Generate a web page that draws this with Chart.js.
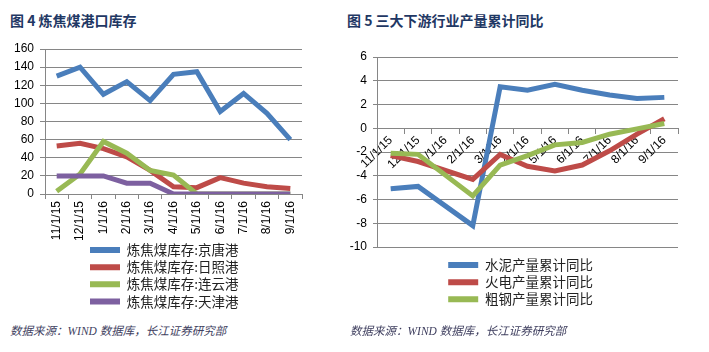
<!DOCTYPE html>
<html>
<head>
<meta charset="utf-8">
<script src="https://cdn.jsdelivr.net/npm/chart.js@4.4.0/dist/chart.umd.min.js"></script>
<style>
body { margin: 0; width: 709px; height: 352px; background: #fff; position: relative; overflow: hidden; font-family: "Noto Sans CJK SC", sans-serif; }
.title { position: absolute; font-size: 14px; font-weight: bold; color: #1f3864; white-space: nowrap; }
.src { position: absolute; font-size: 11.5px; font-style: italic; color: #3f3f5f; white-space: nowrap; font-family: "Liberation Serif", "Noto Sans CJK SC", serif; }
canvas { position: absolute; top: 0; }
</style>
</head>
<body>
<div class="title" style="left:10px;top:10px">图 4 炼焦煤港口库存</div>
<div class="title" style="left:347px;top:10px">图 5 三大下游行业产量累计同比</div>
<canvas id="portStock" width="350" height="322" style="left:0"></canvas>
<canvas id="outputYoy" width="369" height="322" style="left:340px"></canvas>
<div class="src" style="left:10px;top:322px">数据来源：WIND 数据库，长江证券研究部</div>
<div class="src" style="left:350px;top:322px">数据来源：WIND 数据库，长江证券研究部</div>
<script>
// 图4 炼焦煤港口库存
var portLabels = ['11/1/15', '12/1/15', '1/1/16', '2/1/16', '3/1/16', '4/1/16', '5/1/16', '6/1/16', '7/1/16', '8/1/16', '9/1/16'];
var jingtang = [130, 140, 110, 124, 103, 132, 135, 91, 111, 89, 60];
var rizhao = [53, 56, 50, 41, 26, 8, 7, 18, 12, 8, 6];
var lianyun = [3, 22, 58, 45, 26, 21, 0, 0, 0, 0, 0];
var tianjin = [20, 20, 20, 12, 12, 0, 0, 0, 0, 0, 0];
var portTicks = [0, 20, 40, 60, 80, 100, 120, 140, 160];

// 图5 三大下游行业产量累计同比
var outputLabels = ['11/1/15', '12/1/15', '1/1/16', '2/1/16', '3/1/16', '4/1/16', '5/1/16', '6/1/16', '7/1/16', '8/1/16', '9/1/16'];
var cement = [-5.1, -4.9, null, -8.2, 3.5, 3.2, 3.7, 3.2, 2.8, 2.5, 2.6];
var power = [-2.3, -2.8, null, -4.3, -2.2, -3.2, -3.6, -3.1, -1.9, -0.5, 0.8];
var steel = [-2.1, -2.2, null, -5.7, -3.1, -2.3, -1.4, -1.2, -0.5, -0.05, 0.4];
var outputTicks = [-10, -8, -6, -4, -2, 0, 2, 4, 6];

var BLUE = '#4a7ebb', RED = '#be4b48', GREEN = '#98b954', PURPLE = '#7d60a0';
var GRID = '#868686';

Chart.defaults.font.family = '"Liberation Sans", Arial, sans-serif';
Chart.defaults.font.size = 12;
Chart.defaults.color = '#000';

// put the (vertical) legend block under the plot
var legendPlace = {
    id: 'legendPlace',
    afterLayout: function (chart, args, opts) {
        var l = chart.legend;
        var w = l.width, h = l.height;
        l.left = opts.x; l.right = opts.x + w;
        l.top = opts.y; l.bottom = opts.y + h;
    }
};

function line(label, data, color, order) {
    return {
        label: label,
        data: data,
        borderColor: color,
        backgroundColor: color,
        borderWidth: 5,
        pointRadius: 0,
        tension: 0,
        spanGaps: true,
        order: order
    };
}

function legendOpts() {
    return {
        position: 'chartArea',
        align: 'start',
        labels: {
            boxWidth: 30,
            boxHeight: 6,
            padding: 3.7,
            color: '#222',
            font: { family: '"Noto Sans CJK SC", sans-serif', size: 13.5 },
            generateLabels: function (chart) {
                return chart.data.datasets.map(function (ds, i) {
                    return { text: ds.label, fillStyle: ds.borderColor, strokeStyle: ds.borderColor, lineWidth: 0, datasetIndex: i, fontColor: '#222' };
                });
            }
        }
    };
}

function portChart() {
    var ctx = document.getElementById('portStock');
    var myChart = new Chart(ctx, {
        type: 'line',
        data: {
            labels: portLabels,
            datasets: [
                line('炼焦煤库存:京唐港', jingtang, BLUE, 3),
                line('炼焦煤库存:日照港', rizhao, RED, 2),
                line('炼焦煤库存:连云港', lianyun, GREEN, 1),
                line('炼焦煤库存:天津港', tianjin, PURPLE, 0)
            ]
        },
        options: {
            responsive: false,
            animation: false,
            layout: { padding: { left: 0, right: 48, top: 49, bottom: 82 } },
            plugins: {
                legend: legendOpts(),
                tooltip: { enabled: false },
                legendPlace: { x: 86.3, y: 239.5 }
            },
            scales: {
                x: {
                    offset: true,
                    grid: { drawOnChartArea: false, color: GRID, tickLength: 5, offset: true },
                    border: { color: GRID },
                    ticks: { minRotation: 90, maxRotation: 90, padding: 2 },
                    afterFit: function (s) { s.height = 46; }
                },
                y: {
                    min: 0,
                    max: 160,
                    afterBuildTicks: function (s) { s.ticks = portTicks.map(function (v) { return { value: v }; }); },
                    grid: { color: GRID, tickLength: 5 },
                    border: { color: GRID },
                    ticks: { padding: 6 },
                    afterFit: function (s) { s.width = 45; }
                }
            }
        },
        plugins: [legendPlace]
    });
}

function outputChart() {
    var ctx = document.getElementById('outputYoy');
    var myChart = new Chart(ctx, {
        type: 'line',
        data: {
            labels: outputLabels,
            datasets: [
                line('水泥产量累计同比', cement, BLUE, 2),
                line('火电产量累计同比', power, RED, 1),
                line('粗钢产量累计同比', steel, GREEN, 0)
            ]
        },
        options: {
            responsive: false,
            animation: false,
            layout: { padding: { left: 0, right: 31, top: 57, bottom: 75 } },
            plugins: {
                legend: legendOpts(),
                tooltip: { enabled: false },
                legendPlace: { x: 104.5, y: 254.5 }
            },
            scales: {
                x: {
                    position: { y: 0 },
                    offset: true,
                    grid: { drawOnChartArea: false, color: GRID, tickLength: 5, offset: true },
                    border: { color: GRID },
                    ticks: { minRotation: 45, maxRotation: 45, padding: 0 }
                },
                y: {
                    min: -10,
                    max: 6,
                    afterBuildTicks: function (s) { s.ticks = outputTicks.map(function (v) { return { value: v }; }); },
                    grid: { color: GRID, tickLength: 4 },
                    border: { color: GRID },
                    ticks: { padding: 6 },
                    afterFit: function (s) { s.width = 37; }
                }
            }
        },
        plugins: [legendPlace]
    });
}

portChart();
outputChart();
</script>
</body>
</html>
